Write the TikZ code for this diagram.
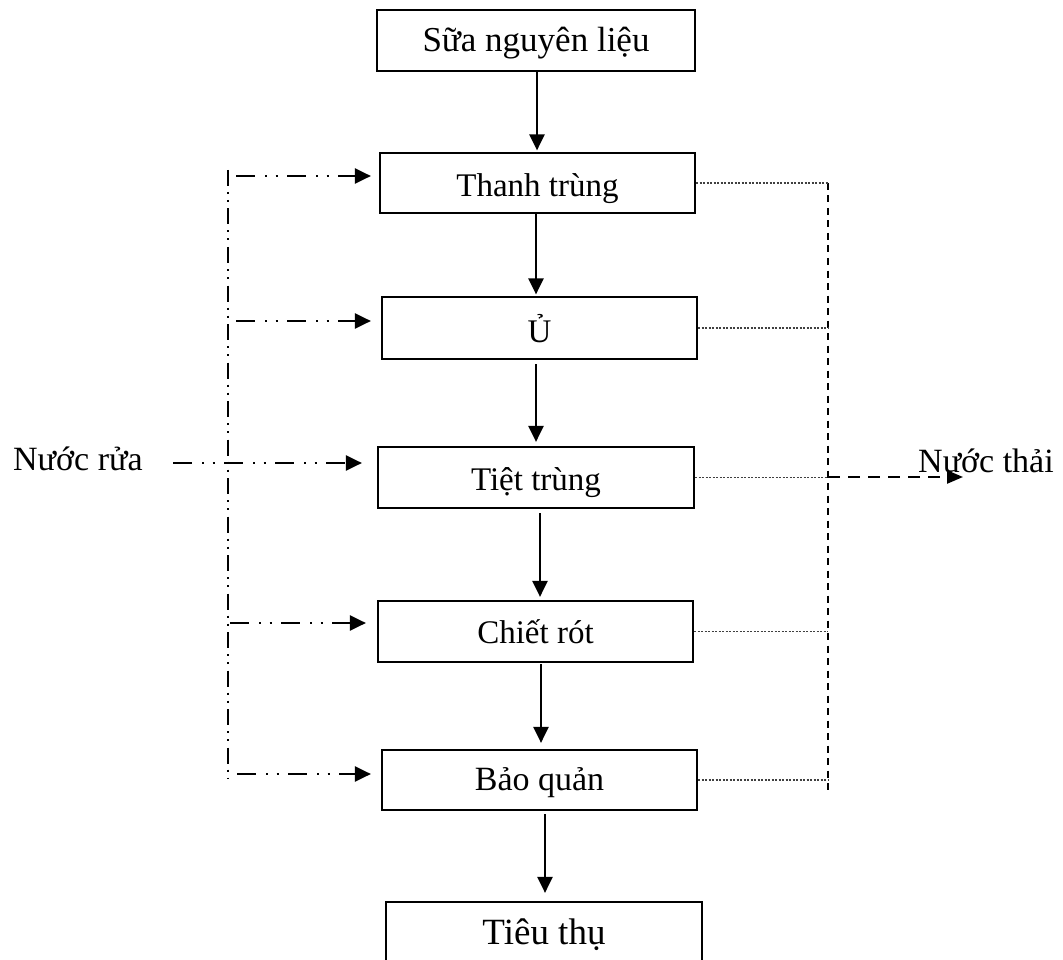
\documentclass[tikz,border=0pt]{standalone}
\usepackage{fontspec}
\setmainfont{Liberation Serif}
\usetikzlibrary{arrows.meta}
\begin{document}
\begin{tikzpicture}[x=1pt,y=-1pt,
  stage/.style={draw, line width=2.2pt, minimum height=61pt, inner sep=0pt,
    font=\fontsize{33}{40}\selectfont, text depth=0pt},
  tip/.style={-{Triangle[length=16pt,width=15pt]}},
  flow/.style={tip, line width=2.5pt},
  wash/.style={tip, line width=2.2pt,
    dash pattern=on 19pt off 10pt on 2pt off 8.5pt on 2pt off 9.5pt},
  washline/.style={line width=2.2pt,
    dash pattern=on 16pt off 6pt on 2pt off 6pt on 2pt off 6.5pt},
  drain/.style={line width=1.2pt, draw=black!75, dash pattern=on 2pt off 1.5pt},
  collect/.style={line width=2.4pt, dash pattern=on 7pt off 5.5pt},
  outflow/.style={line width=2.4pt, dash pattern=on 12pt off 8pt,
    -{Triangle[length=16pt,width=13pt]}},
  side/.style={font=\fontsize{34}{41}\selectfont, inner sep=0pt, anchor=base west}]

\useasboundingbox (0,0) rectangle (1063,960);

% process stages
\node[stage, minimum width=318pt, minimum height=61pt, text height=23pt,
  font=\fontsize{35}{42}\selectfont] (B1) at (536,40.5) {Sữa nguyên liệu};
\node[stage, minimum width=315pt, minimum height=60pt, text height=28pt] (B2) at (537.5,183) {Thanh trùng};
\node[stage, minimum width=315pt, minimum height=62pt, text height=28pt] (B3) at (539.5,328) {Ủ};
\node[stage, minimum width=316pt, minimum height=61pt, text height=26pt] (B4) at (536,477.5) {Tiệt trùng};
\node[stage, minimum width=315pt, minimum height=61pt, text height=23pt] (B5) at (535.5,631.5) {Chiết rót};
\node[stage, minimum width=315pt, minimum height=60pt, text height=20pt,
  font=\fontsize{34}{41}\selectfont] (B6) at (539.5,780) {Bảo quản};
\node[stage, minimum width=316pt, minimum height=60pt, text height=25pt,
  font=\fontsize{37}{44}\selectfont] (B7) at (544,932) {Tiêu thụ};

% main product flow
\coordinate (x1) at (537,0);
\coordinate (x2) at (536,0);
\coordinate (x3) at (536,0);
\coordinate (x4) at (540,0);
\coordinate (x5) at (541,0);
\coordinate (x6) at (545,0);
\draw[flow, shorten >=1.5pt] (B1.south -| x1) -- (B2.north -| x1);
\draw[flow, shorten >=1.5pt] (B2.south -| x2) -- (B3.north -| x2);
\draw[flow, shorten <=4pt, shorten >=4pt] (B3.south -| x3) -- (B4.north -| x3);
\draw[flow, shorten <=4pt, shorten >=3pt] (B4.south -| x4) -- (B5.north -| x4);
\draw[flow, shorten <=1pt, shorten >=6pt] (B5.south -| x5) -- (B6.north -| x5);
\draw[flow, shorten <=3pt, shorten >=8pt] (B6.south -| x6) -- (B7.north -| x6);

% washing water supply
\node[side] (inlet) at (13,470) {Nước rửa};
\coordinate (Ltop) at (228,170);
\coordinate (Lbot) at (228,778);
\draw[washline] (Ltop) -- (Lbot);
\coordinate (w1) at (236,176);
\coordinate (w2) at (236,321);
\coordinate (w3) at (173,463);
\coordinate (w4) at (230,623);
\coordinate (w5) at (237,774);
\draw[wash, shorten >=8pt] (w1) -- (B2.west |- w1);
\draw[wash, shorten >=10pt] (w2) -- (B3.west |- w2);
\draw[wash, shorten >=15pt] (w3) -- (B4.west |- w3);
\draw[wash, shorten >=11pt] (w4) -- (B5.west |- w4);
\draw[wash, shorten >=10pt] (w5) -- (B6.west |- w5);

% waste water collection
\coordinate (Rtop) at (828,183);
\coordinate (Rbot) at (828,790);
\draw[collect] (Rtop) -- (Rbot);
\draw[drain] (B2.east) -- (Rtop |- B2.east);
\draw[drain] (B3.east) -- (Rtop |- B3.east);
\draw[drain] (B4.east) -- (Rtop |- B4.east);
\draw[drain] (B5.east) -- (Rtop |- B5.east);
\draw[drain] (B6.east) -- (Rtop |- B6.east);
\coordinate (out) at (963,477);
\draw[outflow] (Rtop |- out) -- (out);
\node[side] (outlet) at (918,472) {Nước thải};

\end{tikzpicture}
\end{document}
